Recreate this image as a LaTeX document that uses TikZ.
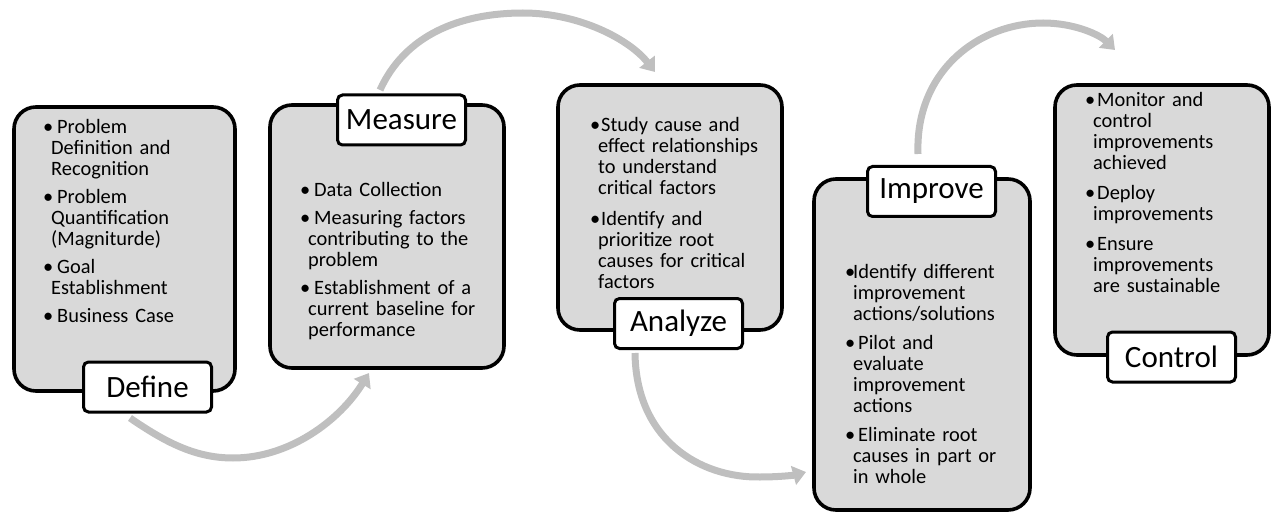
\documentclass[tikz,border=0pt]{standalone}
\usepackage{fontspec}
\setmainfont{Carlito}
\usetikzlibrary{arrows.meta}
\definecolor{boxgray}{HTML}{D9D9D9}
\definecolor{arrgray}{HTML}{BFBFBF}
\newcommand{\dbul}[2][13pt]{\noindent\hangindent=8pt\hangafter=1\makebox[#1][l]{\textbullet}#2\par}
\tikzset{
  bigbox/.style={draw=black, line width=3.6pt, fill=boxgray, rounded corners=22pt, inner sep=0pt},
  labbox/.style={draw=black, line width=3pt, fill=white, rounded corners=5pt, inner sep=0pt,
    minimum width=128pt, minimum height=50pt, font=\fontsize{31}{36}\selectfont},
  bodytext/.style={anchor=north west, inner sep=0pt, text width=220pt,
    font=\fontsize{20.4}{21}\selectfont\setlength{\parskip}{#1}\setlength{\parindent}{0pt}\raggedright},
  bodytext/.default=7pt,
  flow/.style={draw=arrgray, line width=7pt, -{Triangle[width=19pt,length=13pt]}}
}
\begin{document}
\begin{tikzpicture}[x=1pt,y=-1pt]
\useasboundingbox (0,0) rectangle (1272,513);
% arrow end points
\coordinate (a1s) at (130,418); \coordinate (a1e) at (369,373);
\coordinate (a2s) at (380,90);  \coordinate (a2e) at (655,72);
\coordinate (a3s) at (635,353); \coordinate (a3e) at (806,472);
\coordinate (a4s) at (918,154); \coordinate (a4e) at (1115,50);
% arrows
\draw[flow] (a1s) .. controls (165,442) and (195,458) .. (233,458) .. controls (290,458) and (340,420) .. (a1e);
\draw[flow] (a2s) .. controls (405,35) and (460,13) .. (523,13) .. controls (580,13) and (630,40) .. (a2e);
\draw[flow] (a3s) .. controls (636,440) and (700,478) .. (760,477) .. controls (780,477) and (795,475) .. (a3e);
\draw[flow] (a4s) .. controls (915,70) and (980,23) .. (1043,23) .. controls (1075,23) and (1100,35) .. (a4e);
% main boxes
\node[bigbox, minimum width=221pt, minimum height=284pt] (def) at (124.5,249) {};
\node[bigbox, minimum width=234pt, minimum height=263pt] (mea) at (387,236.5) {};
\node[bigbox, minimum width=224pt, minimum height=245pt] (ana) at (670,207.5) {};
\node[bigbox, minimum width=216pt, minimum height=331pt] (imp) at (922,344.5) {};
\node[bigbox, minimum width=214pt, minimum height=270pt] (con) at (1162,220) {};
% body texts
\node[bodytext] (deft) at (43,119) {%
\dbul[14pt]{Problem\newline Definition and\newline Recognition}%
\dbul[14pt]{Problem\newline Quantification\newline (Magniturde)}%
\dbul[14pt]{Goal\newline Establishment}%
\dbul[14pt]{Business Case}};
\node[bodytext] (meat) at (300,182) {%
\dbul[14pt]{Data Collection}%
\dbul[14pt]{Measuring factors\newline contributing to the\newline problem}%
\dbul[14pt]{Establishment of a\newline current baseline for\newline performance}};
\node[bodytext=10pt] (anat) at (590,117) {%
\dbul[11pt]{Study cause and\newline effect relationships\newline to understand\newline critical factors}%
\dbul[11pt]{Identify and\newline prioritize root\newline causes for critical\newline factors}};
\node[bodytext=8pt] (impt) at (845,264) {%
\dbul[8pt]{Identify different\newline improvement\newline actions/solutions}%
\dbul[13pt]{Pilot and\newline evaluate\newline improvement\newline actions}%
\dbul[13pt]{Eliminate root\newline causes in part or\newline in whole}};
\node[bodytext=9pt] (cont) at (1085,92) {%
\dbul[12pt]{Monitor and\newline control\newline improvements\newline achieved}%
\dbul[12pt]{Deploy\newline improvements}%
\dbul[12pt]{Ensure\newline improvements\newline are sustainable}};
% labels
\node[labbox] (defl) at (147.5,387) {Define};
\node[labbox] (meal) at (401.5,120) {Measure};
\node[labbox] (anal) at (678.5,323.5) {Analyze};
\node[labbox] (impl) at (931.5,191.5) {Improve};
\node[labbox] (conl) at (1171.5,357) {Control};
\end{tikzpicture}
\end{document}
